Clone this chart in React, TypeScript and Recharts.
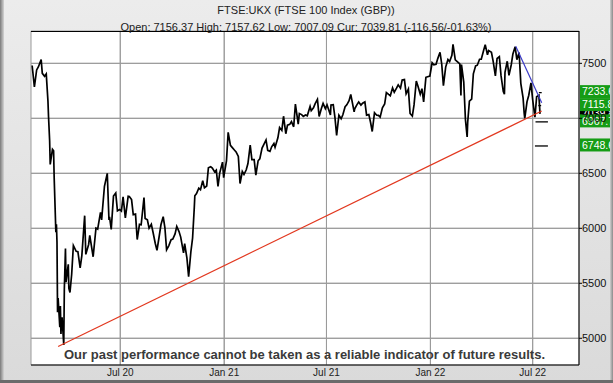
import React from 'react';
import { LineChart, Line, XAxis, YAxis, CartesianGrid, ReferenceLine } from 'recharts';

// FTSE 100 closes
const dates2020 = [
  '2020-01-27', '2020-01-31', '2020-02-04', '2020-02-07', '2020-02-12', '2020-02-14', '2020-02-18', '2020-02-21',
  '2020-02-24', '2020-02-25', '2020-02-27', '2020-02-28', '2020-03-03', '2020-03-05', '2020-03-06', '2020-03-09',
  '2020-03-10', '2020-03-11', '2020-03-12', '2020-03-13', '2020-03-16', '2020-03-17', '2020-03-18', '2020-03-19',
  '2020-03-20', '2020-03-23', '2020-03-24', '2020-03-26', '2020-03-27', '2020-03-31', '2020-04-01', '2020-04-03',
  '2020-04-06', '2020-04-09', '2020-04-14', '2020-04-17', '2020-04-21', '2020-04-24', '2020-04-29', '2020-05-01',
  '2020-05-06', '2020-05-08', '2020-05-14', '2020-05-19', '2020-05-22', '2020-05-27', '2020-05-29', '2020-06-03',
  '2020-06-08', '2020-06-11', '2020-06-12', '2020-06-15', '2020-06-19', '2020-06-23', '2020-06-26', '2020-06-30',
  '2020-07-03', '2020-07-06', '2020-07-10', '2020-07-15', '2020-07-17', '2020-07-21', '2020-07-24', '2020-07-28',
  '2020-07-31', '2020-08-04', '2020-08-07', '2020-08-12', '2020-08-14', '2020-08-18', '2020-08-21', '2020-08-25',
  '2020-08-28', '2020-09-01', '2020-09-04', '2020-09-08', '2020-09-11', '2020-09-15', '2020-09-18', '2020-09-21',
  '2020-09-25', '2020-09-29', '2020-10-02', '2020-10-06', '2020-10-09', '2020-10-13', '2020-10-16', '2020-10-21',
  '2020-10-23', '2020-10-27', '2020-10-30', '2020-11-03', '2020-11-06', '2020-11-09', '2020-11-10', '2020-11-13',
  '2020-11-17', '2020-11-20', '2020-11-24', '2020-11-27', '2020-12-01', '2020-12-04', '2020-12-08', '2020-12-11',
  '2020-12-15', '2020-12-18', '2020-12-21', '2020-12-24', '2020-12-29', '2020-12-31',
];
const close2020 = [
  7480, 7286, 7440, 7467, 7534, 7409, 7382, 7404,
  7157, 7018, 6796, 6581, 6718, 6705, 6463, 5965,
  6036, 5876, 5237, 5366, 5100, 5294, 5040, 5151,
  5191, 4940, 5446, 5816, 5510, 5672, 5454, 5416,
  5582, 5843, 5791, 5787, 5641, 5752, 6115, 5763,
  5853, 5936, 5741, 6002, 5993, 6144, 6077, 6382,
  6500, 6076, 6105, 5990, 6293, 6320, 6159, 6170,
  6157, 6286, 6095, 6292, 6290, 6261, 6124, 6129,
  5898, 6036, 6032, 6280, 6090, 6077, 6002, 6037,
  5964, 5862, 5799, 5930, 6032, 6105, 6007, 5804,
  5843, 5897, 5902, 5949, 6017, 5970, 5920, 5776,
  5860, 5728, 5560, 5787, 5910, 6186, 6296, 6316,
  6365, 6351, 6432, 6368, 6385, 6550, 6559, 6547,
  6513, 6529, 6380, 6502, 6602, 6461,
];

const dates2021 = [
  '2021-01-05', '2021-01-08', '2021-01-12', '2021-01-15', '2021-01-19', '2021-01-22', '2021-01-26', '2021-01-29',
  '2021-02-02', '2021-02-05', '2021-02-09', '2021-02-12', '2021-02-16', '2021-02-19', '2021-02-23', '2021-02-26',
  '2021-03-02', '2021-03-05', '2021-03-09', '2021-03-12', '2021-03-16', '2021-03-19', '2021-03-23', '2021-03-26',
  '2021-03-30', '2021-04-01', '2021-04-06', '2021-04-09', '2021-04-13', '2021-04-16', '2021-04-20', '2021-04-23',
  '2021-04-27', '2021-04-30', '2021-05-04', '2021-05-07', '2021-05-12', '2021-05-14', '2021-05-18', '2021-05-21',
  '2021-05-25', '2021-05-28', '2021-06-02', '2021-06-04', '2021-06-08', '2021-06-11', '2021-06-15', '2021-06-18',
  '2021-06-22', '2021-06-25', '2021-06-29', '2021-07-02', '2021-07-08', '2021-07-09', '2021-07-13', '2021-07-16',
  '2021-07-19', '2021-07-23', '2021-07-27', '2021-07-30', '2021-08-03', '2021-08-06', '2021-08-10', '2021-08-13',
  '2021-08-19', '2021-08-20', '2021-08-24', '2021-08-27', '2021-08-31', '2021-09-03', '2021-09-07', '2021-09-10',
  '2021-09-14', '2021-09-17', '2021-09-20', '2021-09-24', '2021-09-28', '2021-10-01', '2021-10-04', '2021-10-08',
  '2021-10-12', '2021-10-15', '2021-10-19', '2021-10-22', '2021-10-26', '2021-10-29', '2021-11-02', '2021-11-05',
  '2021-11-09', '2021-11-12', '2021-11-16', '2021-11-19', '2021-11-23', '2021-11-26', '2021-11-30', '2021-12-03',
  '2021-12-07', '2021-12-10', '2021-12-14', '2021-12-17', '2021-12-20', '2021-12-24', '2021-12-31',
];
const close2021 = [
  6612, 6873, 6754, 6736, 6712, 6695, 6654, 6407,
  6516, 6489, 6532, 6589, 6756, 6624, 6625, 6483,
  6614, 6631, 6730, 6761, 6803, 6709, 6699, 6741,
  6772, 6737, 6823, 6916, 6890, 7019, 6860, 6938,
  6945, 6970, 6923, 7130, 6948, 7044, 7034, 7018,
  7030, 7023, 7108, 7069, 7095, 7134, 7172, 7017,
  7090, 7136, 7088, 7123, 7030, 7122, 7124, 7008,
  6844, 7028, 6996, 7032, 7105, 7123, 7161, 7218,
  7058, 7087, 7125, 7148, 7120, 7138, 7149, 7029,
  7034, 6964, 6880, 7051, 7028, 7027, 7011, 7096,
  7130, 7234, 7217, 7205, 7277, 7237, 7274, 7304,
  7274, 7348, 7352, 7223, 7266, 7044, 7020, 7122,
  7339, 7292, 7219, 7270, 7150, 7373, 7385,
];

const dates2022 = [
  '2022-01-04', '2022-01-07', '2022-01-11', '2022-01-14', '2022-01-18', '2022-01-21', '2022-01-24', '2022-01-28',
  '2022-02-01', '2022-02-04', '2022-02-08', '2022-02-10', '2022-02-14', '2022-02-18', '2022-02-22', '2022-02-24',
  '2022-02-25', '2022-03-01', '2022-03-04', '2022-03-07', '2022-03-08', '2022-03-11', '2022-03-15', '2022-03-18',
  '2022-03-22', '2022-03-25', '2022-03-29', '2022-04-01', '2022-04-05', '2022-04-08', '2022-04-12', '2022-04-14',
  '2022-04-19', '2022-04-22', '2022-04-26', '2022-04-29', '2022-05-03', '2022-05-06', '2022-05-10', '2022-05-12',
  '2022-05-13', '2022-05-17', '2022-05-20', '2022-05-24', '2022-05-27', '2022-05-31', '2022-06-03', '2022-06-07',
  '2022-06-10', '2022-06-14', '2022-06-16', '2022-06-17', '2022-06-21', '2022-06-24', '2022-06-28', '2022-07-01',
  '2022-07-05', '2022-07-08', '2022-07-12', '2022-07-14',
];
const close2022 = [
  7505, 7486, 7491, 7543, 7600, 7494, 7297, 7466,
  7535, 7516, 7573, 7672, 7531, 7513, 7494, 7207,
  7489, 7330, 6987, 6830, 6964, 7156, 7175, 7405,
  7477, 7483, 7537, 7538, 7614, 7670, 7577, 7616,
  7601, 7521, 7386, 7544, 7561, 7388, 7243, 7220,
  7418, 7519, 7390, 7485, 7585, 7650, 7533, 7598,
  7318, 7187, 7045, 7000, 7152, 7208, 7323, 7169,
  7010, 7196, 7209, 7040,
];

const xTickDates = ['2020-07-01', '2021-01-01', '2021-07-01', '2022-01-01', '2022-07-01'];
const xTickLabels = ['Jul 20', 'Jan 21', 'Jul 21', 'Jan 22', 'Jul 22'];
const yTicks = [5000, 5500, 6000, 6500, 7000, 7500];
const yMinorTicks = [5000, 5250, 5500, 5750, 6000, 6250, 6500, 6750, 7000, 7250, 7500, 7750];

// trend lines: [date, value] ends
const supportDates = ['2020-03-13', '2022-07-17'];
const supportValues = [4925, 7066];
const resistDates = ['2022-06-01', '2022-07-17'];
const resistValues = [7655, 7142];

// target levels shown in the right margin
const targetLevels = [7233.6, 7115.8, 6967.7, 6748.6];
const currentLevel = 7039.8;
const targetDashFrom = ['2022-07-12', '2022-07-11', '2022-07-06', '2022-07-05'];
const targetDashTo = ['2022-07-17', '2022-07-16', '2022-07-28', '2022-07-28'];

const title = 'FTSE:UKX (FTSE 100 Index (GBP))';
const subtitle = 'Open: 7156.37 High: 7157.62 Low: 7007.09 Cur: 7039.81 (-116.56/-01.63%)';
const disclaimer = 'Our past performance cannot be taken as a reliable indicator of future results.';

const t = (d: string) => Date.parse(d);

const series = [
  ...dates2020.map((d, i) => ({ t: t(d), v: close2020[i] })),
  ...dates2021.map((d, i) => ({ t: t(d), v: close2021[i] })),
  ...dates2022.map((d, i) => ({ t: t(d), v: close2022[i] })),
];
const xTicks = xTickDates.map(t);

const FONT = '"Liberation Sans", Arial, sans-serif';
const GREEN = '#159c15';
const GRID = '#9a9a9a';
const X_DOMAIN = [Date.UTC(2020, 0, 25), Date.UTC(2022, 8, 21)];
const Y_DOMAIN = [4757, 7794];

const Tag = (props: any) => {
  const { viewBox, text, fill } = props;
  const x = viewBox.x + viewBox.width + 1;
  const y = viewBox.y - 1;
  return (
    <g>
      <rect x={x} y={y - 6.5} width={32} height={13} fill={fill} />
      <text x={x + 2} y={y} dy="0.36em" fill="#fff" fontSize={10.5} fontFamily={FONT}>{text}</text>
    </g>
  );
};

const App = () => {
  return (
    <div style={{ position: 'relative', width: 613, height: 383, background: 'linear-gradient(#ececec, #dadada)', overflow: 'hidden' }}>
      <style>{'body{margin:0}'}</style>
      <div style={{ position: 'absolute', left: 0, top: 0 }}>
        <LineChart width={613} height={383} data={series} margin={{ top: 31, right: 0, bottom: 0, left: 31 }}>
          <CartesianGrid stroke={GRID} strokeWidth={1} fill="#ffffff" />
          <XAxis
            dataKey="t"
            type="number"
            domain={X_DOMAIN}
            allowDataOverflow
            ticks={xTicks}
            interval={0}
            tickFormatter={(v: number) => xTickLabels[xTicks.indexOf(v)]}
            height={18}
            tickLine={false}
            tickSize={0}
            tickMargin={4}
            axisLine={{ stroke: '#000' }}
            tick={{ fontSize: 10, fill: '#222', fontFamily: FONT }}
          />
          <YAxis
            orientation="right"
            domain={Y_DOMAIN}
            allowDataOverflow
            ticks={yTicks}
            interval={0}
            width={34}
            tickSize={3}
            tickMargin={0}
            axisLine={{ stroke: '#000' }}
            tickLine={{ stroke: '#000' }}
            tick={{ fontSize: 11, fill: '#111', fontFamily: FONT, textAnchor: 'start' }}
          />
          <YAxis
            yAxisId="l"
            orientation="left"
            domain={Y_DOMAIN}
            allowDataOverflow
            ticks={yMinorTicks}
            interval={0}
            width={0}
            mirror
            tickSize={2}
            axisLine={{ stroke: '#000' }}
            tickLine={{ stroke: '#000' }}
            tick={() => <g />}
          />
          {yTicks.map((v) => (
            <ReferenceLine key={'hy' + v} y={v} stroke={GRID} strokeWidth={1} />
          ))}
          {xTicks.map((v) => (
            <ReferenceLine key={'vx' + v} x={v} stroke={GRID} strokeWidth={1} />
          ))}
          <Line dataKey="v" stroke="#000" strokeWidth={1.7} dot={false} isAnimationActive={false} />
          <ReferenceLine
            segment={[{ x: t(supportDates[0]), y: supportValues[0] }, { x: t(supportDates[1]), y: supportValues[1] }]}
            stroke="#e2381f"
            strokeWidth={1.2}
          />
          <ReferenceLine
            segment={[{ x: t(resistDates[0]), y: resistValues[0] }, { x: t(resistDates[1]), y: resistValues[1] }]}
            stroke="#3b3bc8"
            strokeWidth={1.2}
          />
          {targetLevels.map((lv, i) => (
            <ReferenceLine
              key={'d' + i}
              segment={[{ x: t(targetDashFrom[i]), y: lv }, { x: t(targetDashTo[i]), y: lv }]}
              stroke="#000"
              strokeWidth={1.3}
            />
          ))}
          <ReferenceLine y={currentLevel} stroke="none" label={<Tag text={currentLevel.toFixed(1)} fill="#000" />} />
          {targetLevels.map((lv, i) => (
            <ReferenceLine key={'g' + i} y={lv} stroke="none" label={<Tag text={lv.toFixed(1)} fill={GREEN} />} />
          ))}
        </LineChart>
      </div>
      <div style={{ position: 'absolute', left: 31, top: 31, width: 548, height: 1, background: '#000' }} />
      <div style={{ position: 'absolute', left: 0, top: 0, width: 4, height: 383, background: 'linear-gradient(to right, #7a7a7a, #d4d4d4)' }} />
      <div style={{ position: 'absolute', left: 610, top: 0, width: 3, height: 383, background: 'linear-gradient(to right, #cfcfcf, #8a8a8a)' }} />
      <div style={{ position: 'absolute', left: 0, top: 380, width: 613, height: 3, background: '#6b6b6b' }} />
      <svg width={613} height={383} style={{ position: 'absolute', left: 0, top: 0, pointerEvents: 'none' }}>
        <text x={306} y={10} textAnchor="middle" dominantBaseline="central" fontSize={11} fontFamily={FONT} fill="#222">{title}</text>
        <text x={306} y={27} textAnchor="middle" dominantBaseline="central" fontSize={11} fontFamily={FONT} fill="#222">{subtitle}</text>
        <text x={304.5} y={359} textAnchor="middle" fontSize={13} fontWeight="bold" fontFamily={FONT} fill="#3a3a3a" textLength={481} lengthAdjust="spacingAndGlyphs">{disclaimer}</text>
      </svg>
    </div>
  );
};

export default App;
